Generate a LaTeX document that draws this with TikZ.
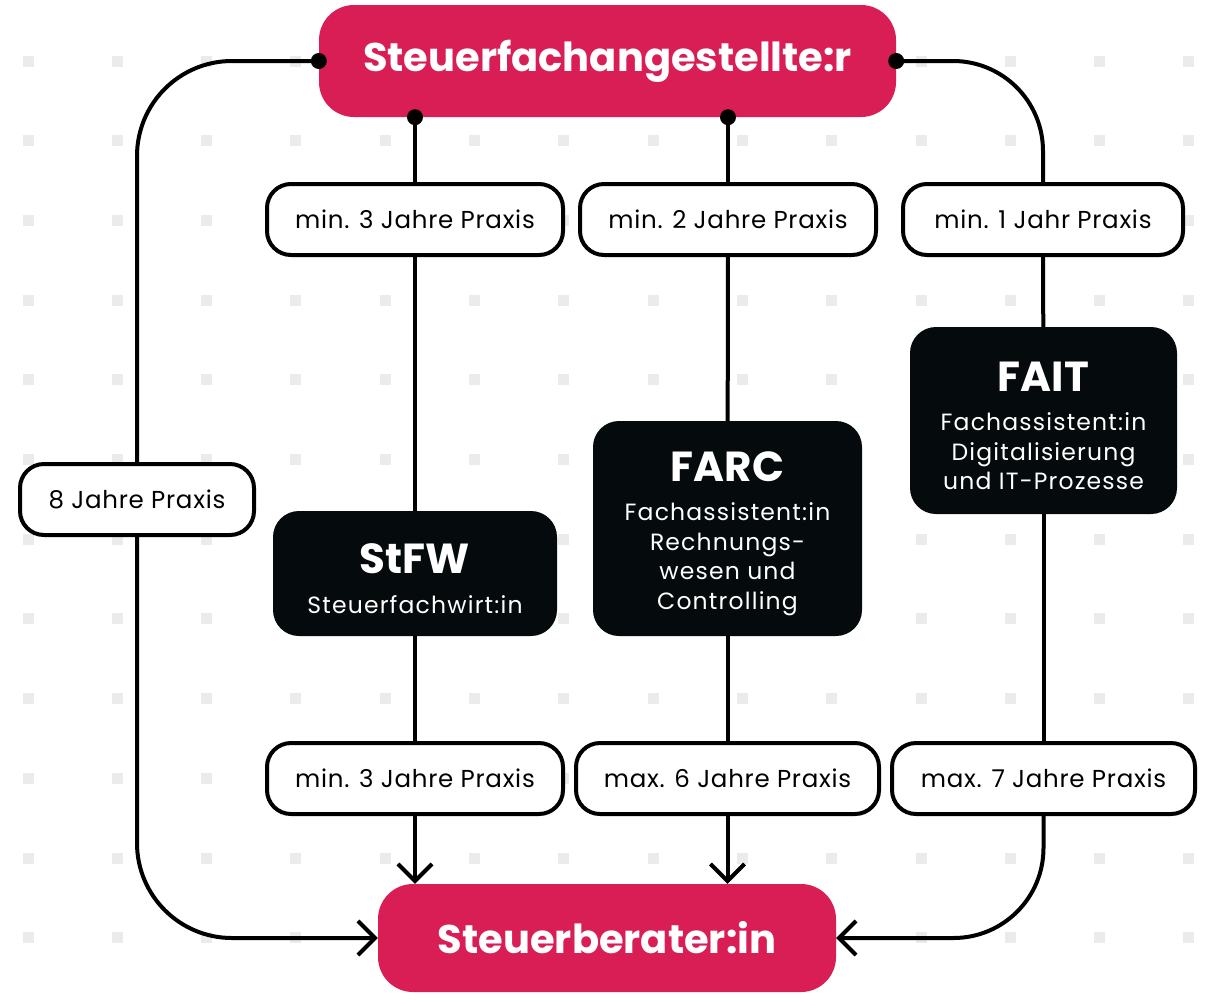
\documentclass[tikz,border=0pt]{standalone}
\usepackage{fontspec}
\setmainfont{Poppins}
\usepackage{xcolor}
\usepackage{tikz}
\usetikzlibrary{shapes,positioning,arrows.meta}
\definecolor{rot}{HTML}{D81E54}
\definecolor{schwarz}{HTML}{050A0C}
\definecolor{punkt}{HTML}{EBEBEB}
\newcommand{\kurstitel}[1]{{\bfseries\fontsize{42}{44}\selectfont\addfontfeature{LetterSpace=0}\rule{0pt}{40pt}#1}}
\tikzset{haupt/.style={rectangle,rounded corners=35pt,fill=rot,text=white,inner sep=0pt,font=\bfseries\fontsize{40}{44}\selectfont},
pill/.style={rectangle,rounded corners=24pt,draw,line width=4pt,fill=white,minimum height=71pt,inner sep=0pt,font=\fontsize{24.5}{28}\selectfont\addfontfeature{LetterSpace=3}},
kurs/.style={rectangle,rounded corners=26pt,fill=schwarz,text=white,align=center,inner sep=0pt,font=\fontsize{23.5}{29.5}\selectfont\addfontfeature{LetterSpace=5}},
lin/.style={line width=4pt}}

\begin{document}
\begin{tikzpicture}[x=1pt,y=-1pt,>={Straight Barb[length=17pt,width=34pt]}]
    \useasboundingbox (0,0) rectangle (1220,1002);
    \foreach \i in {0,...,13}
        \foreach \j in {0,...,11}
            \fill[punkt] ({28+89.3*\i-5.5},{61+79.7*\j-5.5}) rectangle +(11,11);

    \node[haupt,minimum width=577pt,minimum height=112pt] (s)at (607.5,61) {Steuerfachangestellte:r};
    \node[haupt,minimum width=458pt,minimum height=108pt] (b)at (607,938) {Steuerberater:in};
    \node[pill,minimum width=234pt] (p)at (137,499.5) {8 Jahre Praxis};
    \node[pill,minimum width=296pt] (o1)at (415,219.5) {min. 3 Jahre Praxis};
    \node[pill,minimum width=296pt] (o2)at (728,219.5) {min. 2 Jahre Praxis};
    \node[pill,minimum width=280pt] (o3)at (1043,219.5) {min. 1 Jahr Praxis};
    \node[kurs,minimum width=284pt,minimum height=125pt] (k1)at (415,573.5) {\kurstitel{StFW}\\[10pt]Steuerfachwirt:in};
    \node[kurs,minimum width=269pt,minimum height=215pt] (k2)at (727.5,528.5) {\kurstitel{FARC}\\[10pt]Fachassistent:in\\Rechnungs-\\wesen und\\Controlling};
    \node[kurs,minimum width=267pt,minimum height=187pt] (k3)at (1043.5,420.5) {\kurstitel{FAIT}\\[10pt]Fachassistent:in\\Digitalisierung\\und IT-Prozesse};
    \node[pill,minimum width=296pt] (u1)at (415,778.5) {min. 3 Jahre Praxis};
    \node[pill,minimum width=303pt] (u2)at (727.5,778.5) {max. 6 Jahre Praxis};
    \node[pill,minimum width=303pt] (u3)at (1043.5,778.5) {max. 7 Jahre Praxis};

    \draw [lin,rounded corners=95pt] (s.west) -| (p);
    \draw [lin,rounded corners=95pt,->] (p) |- (b.west);
    \draw [lin,rounded corners=90pt] (s.east) -| (o3);
    \draw [lin,rounded corners=90pt,->] (u3) |- (b.east);
    \draw [lin] (o1 |- s.south) to [] (o1);
    \draw [lin] (o1) to [] (k1);
    \draw [lin] (k1) to [] (u1);
    \draw [lin,->] (u1) to [] (u1 |- b.north);
    \draw [lin] (o2 |- s.south) to [] (o2);
    \draw [lin] (o2) to [] (k2);
    \draw [lin] (k2) to [] (u2);
    \draw [lin,->] (u2) to [] (u2 |- b.north);
    \draw [lin] (o3) to [] (k3);
    \draw [lin] (k3) to [] (u3);
    \fill (s.west) circle (8pt);
    \fill (s.east) circle (8pt);
    \fill (o1 |- s.south) circle (8pt);
    \fill (o2 |- s.south) circle (8pt);
\end{tikzpicture}
\end{document}
